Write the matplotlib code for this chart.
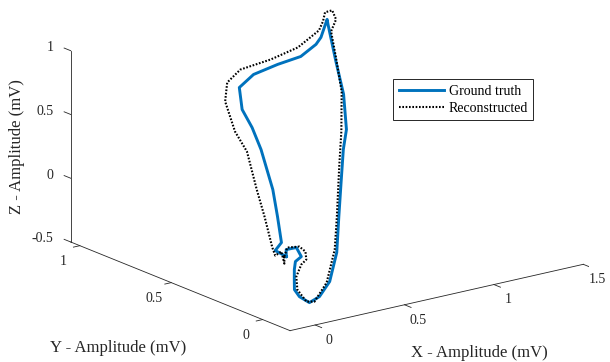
import numpy as np
import matplotlib.pyplot as plt
from mpl_toolkits.mplot3d import proj3d

plt.rcParams['font.family'] = ['Liberation Serif', 'DejaVu Serif']

# ground truth loop (mV)
gt_x = [-0.008, 0.002, 0.069, 0.107, 0.074, 0.068, 0.078, 0.089, 0.117, 0.178,
        0.239, 0.327, 0.438, 0.552, 0.677, 0.802, 0.891, 1.008, 1.108, 1.207,
        1.243, 1.188, 1.140, 1.024, 0.854, 0.668, 0.527, 0.461, 0.435, 0.393,
        0.285, 0.168, 0.047, -0.039, -0.008]
gt_y = [0.000, 0.010, 0.020, 0.030, 0.030, 0.030, 0.040, 0.050, 0.050, 0.055,
        0.060, 0.090, 0.160, 0.260, 0.370, 0.480, 0.550, 0.680, 0.820, 0.960,
        1.000, 0.980, 0.960, 0.930, 0.890, 0.840, 0.780, 0.700, 0.620, 0.530,
        0.360, 0.220, 0.080, 0.030, 0.000]
gt_z = [-0.048, -0.002, -0.013, -0.102, -0.130, -0.191, -0.279, -0.367, -0.431, -0.500,
        -0.475, -0.402, -0.250, -0.062, 0.102, 0.257, 0.345, 0.508, 0.654, 0.832,
        0.836, 0.724, 0.696, 0.655, 0.670, 0.679, 0.656, 0.551, 0.464, 0.357,
        0.176, 0.083, -0.002, -0.008, -0.048]

# reconstructed loop (mV)
rc_x = [-0.019, 0.008, 0.086, 0.130, 0.135, 0.107, 0.079, 0.095, 0.156, 0.206,
        0.310, 0.437, 0.541, 0.728, 0.883, 1.038, 1.139, 1.214, 1.293, 1.302,
        1.262, 1.220, 1.177, 1.018, 0.815, 0.584, 0.449, 0.366, 0.319, 0.304,
        0.195, 0.116, -0.004, -0.039, -0.015, 0.002, -0.019]
rc_y = [0.000, 0.010, 0.020, 0.030, 0.030, 0.030, 0.030, 0.040, 0.050, 0.055,
        0.090, 0.170, 0.260, 0.430, 0.570, 0.720, 0.850, 0.950, 1.000, 1.030,
        1.030, 1.000, 0.980, 0.940, 0.890, 0.830, 0.770, 0.700, 0.600, 0.520,
        0.360, 0.240, 0.080, 0.030, 0.020, 0.020, 0.000]
rc_z = [-0.044, 0.012, -0.011, -0.070, -0.134, -0.164, -0.250, -0.363, -0.482, -0.501,
        -0.405, -0.232, -0.058, 0.176, 0.321, 0.498, 0.658, 0.780, 0.820, 0.871,
        0.868, 0.828, 0.782, 0.722, 0.721, 0.750, 0.726, 0.644, 0.481, 0.375,
        0.205, 0.087, -0.025, -0.048, -0.018, -0.118, -0.044]

xlim = (-0.14, 1.5)
ylim = (-0.15, 1.05)
zlim = (-0.5, 1.0)
xticks = [0, 0.5, 1, 1.5]
yticks = [0, 0.5, 1]
zticks = [-0.5, 0, 0.5, 1]

W, H = 610, 362
fig = plt.figure(figsize=(W / 100, H / 100), dpi=100)
ax = fig.add_axes([0.1, 0.1, 0.8, 0.8], projection='3d', proj_type='ortho',
                  computed_zorder=False)
ax.view_init(elev=17.6, azim=-126.8)
ax.set_box_aspect((1, 1, 0.548))
ax.set_xlim(xlim)
ax.set_ylim(ylim)
ax.set_zlim(zlim)
ax.set_axis_off()

ax.plot(gt_x, gt_y, gt_z, color='#0072BD', lw=2.1, label='Ground truth', zorder=2)
ax.plot(rc_x, rc_y, rc_z, color='black', lw=1.5, ls=(0, (0.8, 0.8)),
        label='Reconstructed', zorder=3)

# matlab style axis lines with outward ticks
axc = '#262626'
x0, x1 = xlim
y0, y1 = ylim
z0, z1 = zlim
ax.plot([x0, x1], [y0, y0], [z0, z0], color=axc, lw=0.6)
ax.plot([x0, x0], [y0, y1], [z0, z0], color=axc, lw=0.6)
ax.plot([x0, x0], [y1, y1], [z0, z1], color=axc, lw=0.6)
tl = 0.036
for t in xticks:
    ax.plot([t, t], [y0, y0 - tl], [z0, z0], color=axc, lw=0.6)
for t in yticks:
    ax.plot([x0, x0 - tl], [t, t], [z0, z0], color=axc, lw=0.6)
for t in zticks:
    ax.plot([x0, x0], [y1, y1 + tl], [t, t], color=axc, lw=0.6)

fig.text(17 / W, 1 - 147 / H, 'Z - Amplitude (mV)', rotation=90, ha='center',
         va='center', fontsize=12, color=axc)
fig.text(118 / W, 1 - 348 / H, 'Y - Amplitude (mV)', ha='center', va='center',
         fontsize=12, color=axc)
fig.text(479 / W, 1 - 353 / H, 'X - Amplitude (mV)', ha='center', va='center',
         fontsize=12, color=axc)

leg = ax.legend(loc='upper left', bbox_to_anchor=(393 / W, 1 - 79 / H),
                bbox_transform=fig.transFigure, borderaxespad=0, fancybox=False,
                edgecolor=axc, framealpha=1, fontsize=10, handlelength=3.3,
                handletextpad=0.3, borderpad=0.4, labelspacing=0.3)
leg.get_frame().set_linewidth(0.7)


# move the 3d box so its corners land where the reference has them
def to_px(x, y, z):
    xs, ys, _ = proj3d.proj_transform(x, y, z, ax.get_proj())
    return np.array(ax.transData.transform((xs, ys)))


ta = np.array([70.7, H - 50.7])
tb = np.array([583.0, H - 265.0])
for _ in range(3):
    fig.canvas.draw()
    pa = to_px(x0, y1, z1)
    pb = to_px(x1, y0, z0)
    s = np.linalg.norm(ta - tb) / np.linalg.norm(pa - pb)
    pos = ax.get_position()
    ll = np.array([pos.x0 * W, pos.y0 * H])
    side = pos.width * W
    ll2 = ta - s * (pa - ll)
    ax.set_position([ll2[0] / W, ll2[1] / H, side * s / W, side * s / H])
fig.canvas.draw()

# tick labels, placed in 2d next to the projected tick ends
for t in xticks:
    p = to_px(t, y0 - 0.076, z0 - 0.077)
    fig.text(p[0] / W, p[1] / H, f'{t:g}', ha='center', va='center',
             fontsize=10, color=axc)
for t in yticks:
    p = to_px(x0 - 0.095, t, z0 - 0.096)
    fig.text(p[0] / W, p[1] / H, f'{t:g}', ha='center', va='center',
             fontsize=10, color=axc)
for t in zticks:
    p = to_px(x0, y1 + 0.095, t - 0.03)
    fig.text(p[0] / W, p[1] / H, f'{t:g}', ha='right', va='center',
             fontsize=10, color=axc)

fig.savefig('out.png', dpi=100)
